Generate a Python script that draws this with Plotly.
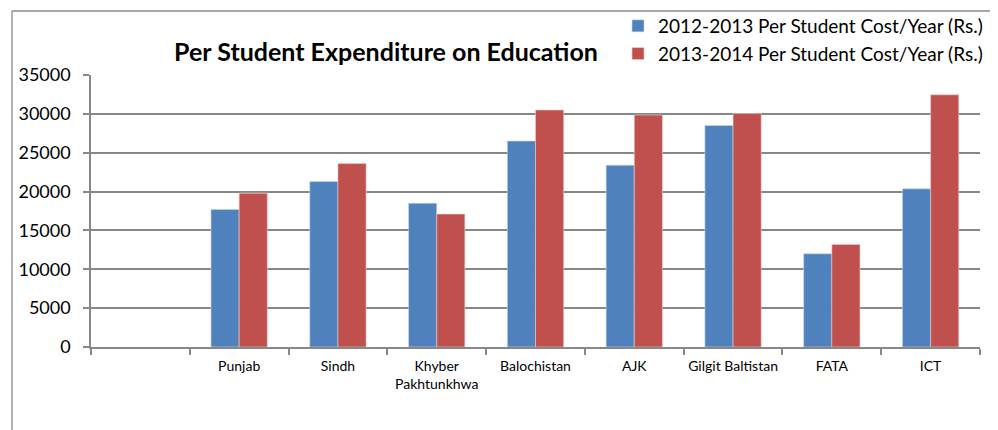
import plotly.graph_objects as go

categories = [" ", "Punjab", "Sindh", "Khyber<br>Pakhtunkhwa", "Balochistan", "AJK",
              "Gilgit Baltistan", "FATA", "ICT"]
cost_2012_2013 = [None, 17700, 21300, 18500, 26500, 23400, 28500, 12000, 20350]
cost_2013_2014 = [None, 19800, 23600, 17100, 30500, 29850, 30050, 13200, 32450]
series_names = ["2012-2013 Per Student Cost/Year (Rs.)", "2013-2014 Per Student Cost/Year (Rs.)"]
y_ticks = [0, 5000, 10000, 15000, 20000, 25000, 30000, 35000]

FONT = "Lato, Calibri, Carlito, sans-serif"
GRID = "#878787"

fig = go.Figure()
fig.add_trace(go.Bar(x=categories, y=cost_2012_2013, name=series_names[0],
                     marker=dict(color="#4F81BD", line=dict(color="#c9d6ea", width=0.6))))
fig.add_trace(go.Bar(x=categories, y=cost_2013_2014, name=series_names[1],
                     marker=dict(color="#C0504D", line=dict(color="#ead0cf", width=0.6))))

OFF = 8  # page offset of the figure inside the browser
W, H = 998, 430
# target plot area in page pixels
P_L, P_R, P_T, P_B = 91, 980, 75, 347
L = P_L - OFF
T = P_T - OFF
R = W - (P_R - OFF)
B = H - (P_B - OFF)
pw, ph = W - L - R, H - T - B

def px(x):
    return (x - OFF - L) / pw

def py(y):
    return (H - B - (y - OFF)) / ph

fig.update_layout(
    width=W, height=H,
    margin=dict(l=L, r=R, t=T, b=B, autoexpand=False),
    paper_bgcolor="white", plot_bgcolor="white",
    barmode="group", bargap=0.43, bargroupgap=0,
    font=dict(family=FONT, color="black"),
    title=dict(text="<b>Per Student Expenditure on Education</b>",
               font=dict(family=FONT, size=25, color="black"),
               x=px(386), xref="paper", xanchor="center",
               y=1 - (52 - OFF) / H, yref="container", yanchor="middle"),
    legend=dict(x=px(618), y=py(7), xanchor="left", yanchor="top",
                font=dict(family=FONT, size=19, color="black"),
                bgcolor="rgba(0,0,0,0)", tracegroupgap=0, itemwidth=30),
    xaxis=dict(type="category", tickson="boundaries", ticks="outside", ticklen=6,
               tickcolor=GRID, tickwidth=1.5, showline=True, linecolor=GRID, linewidth=1.5,
               showgrid=False, tickfont=dict(family=FONT, size=14, color="black"),
               ticklabelstandoff=5,
               tickangle=0, fixedrange=True, automargin=False),
    yaxis=dict(range=[0, 35000], tickvals=y_ticks, tickformat="d", ticks="outside", ticklen=6,
               tickcolor=GRID, tickwidth=1.5, showline=True, linecolor=GRID, linewidth=1.5,
               showgrid=True, gridcolor=GRID, gridwidth=1.5, zeroline=False,
               ticklabelstandoff=9,
               tickfont=dict(family=FONT, size=18, color="black"), fixedrange=True,
               automargin=False),
    shapes=[
        dict(type="line", xref="paper", yref="paper", x0=px(12), x1=px(1010),
             y0=py(11), y1=py(11), line=dict(color="#8a8a8a", width=1.3)),
        dict(type="line", xref="paper", yref="paper", x0=px(12), x1=px(12),
             y0=py(11), y1=py(450), line=dict(color="#8a8a8a", width=1.3)),
    ],
)

fig.write_html("out.html")
